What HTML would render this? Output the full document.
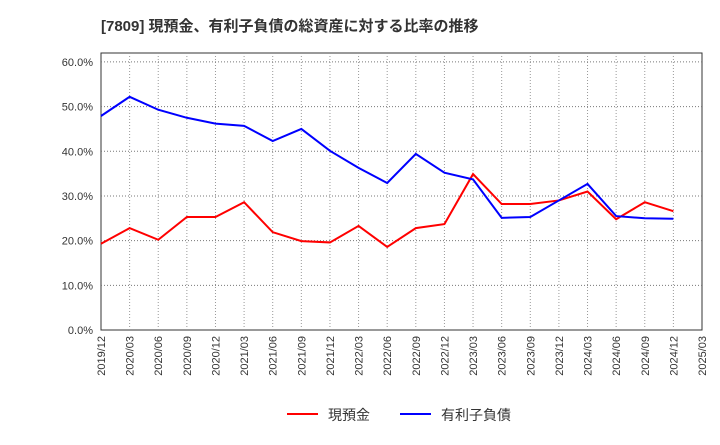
<!DOCTYPE html>
<html><head><meta charset="utf-8"><style>
body{margin:0;background:#fff;font-family:"Liberation Sans","Noto Sans CJK JP",sans-serif}
</style></head><body>
<svg id="c" width="720" height="440" xmlns="http://www.w3.org/2000/svg">
<text x="101" y="31" font-size="15" font-weight="bold" fill="#333" font-family="Liberation Sans,Noto Sans CJK JP,sans-serif">[7809]  現預金、有利子負債の総資産に対する比率の推移</text>
<g id="grid"></g><g id="axes"></g><g id="series"></g>
<g>
<line x1="287" y1="414" x2="318" y2="414" stroke="#f00" stroke-width="2"/>
<text x="328" y="420" font-size="14" fill="#333">現預金</text>
<line x1="400" y1="414" x2="431" y2="414" stroke="#00f" stroke-width="2"/>
<text x="441" y="420" font-size="14" fill="#333">有利子負債</text>
</g>
</svg>
<script>
const categories=["2019/12","2020/03","2020/06","2020/09","2020/12","2021/03","2021/06","2021/09","2021/12","2022/03","2022/06","2022/09","2022/12","2023/03","2023/06","2023/09","2023/12","2024/03","2024/06","2024/09","2024/12","2025/03"];
const cash=[19.3,22.8,20.2,25.3,25.3,28.6,21.9,19.9,19.6,23.3,18.6,22.8,23.7,34.9,28.2,28.2,29.0,31.0,24.8,28.6,26.6];
const debt=[47.9,52.2,49.3,47.5,46.2,45.7,42.3,45.0,40.1,36.3,32.9,39.4,35.2,33.7,25.1,25.3,29.0,32.7,25.5,25.0,24.9];
const yTicks=[0,10,20,30,40,50,60];
const NS="http://www.w3.org/2000/svg";
const L=101,R=702,T=53,B=330,YMAX=62;
const x=i=>L+i*(R-L)/(categories.length-1);
const y=v=>B-v/YMAX*(B-T);
function mk(p,t,a){const e=document.createElementNS(NS,t);for(const k in a)e.setAttribute(k,a[k]);document.getElementById(p).appendChild(e);return e;}
const bg=mk("grid","rect",{x:L,y:T,width:R-L,height:B-T,fill:"#fff",stroke:"#333"});


categories.forEach((c,i)=>{
 if(i>0&&i<categories.length-1){const g=mk("grid","line",{x1:x(i),x2:x(i),y1:T,y2:B,stroke:"#999","stroke-dasharray":"1,2"});
 
 }
 const t=mk("axes","text",{transform:`translate(${x(i)+4},${B+6}) rotate(-90)`,"text-anchor":"end","font-size":"11",fill:"#333"});
 
 
 t.textContent=c;
});
yTicks.forEach(v=>{
 if(v>0){const g=mk("grid","line",{x1:L,x2:R,y1:y(v),y2:y(v),stroke:"#777","stroke-dasharray":"1,2"});
 
 }
 const t=mk("axes","text",{x:L-8,y:y(v)+4,"text-anchor":"end","font-size":"11",fill:"#333"});
 
 
 t.textContent=v.toFixed(1)+"%";
});
function line(d,col,name){const p=mk("series","polyline",{points:d.map((v,i)=>x(i)+","+y(v)).join(" "),fill:"none",stroke:col,"stroke-width":2});
 
 }
line(cash,"#f00","cash-line");
line(debt,"#00f","debt-line");
</script>
</body></html>
